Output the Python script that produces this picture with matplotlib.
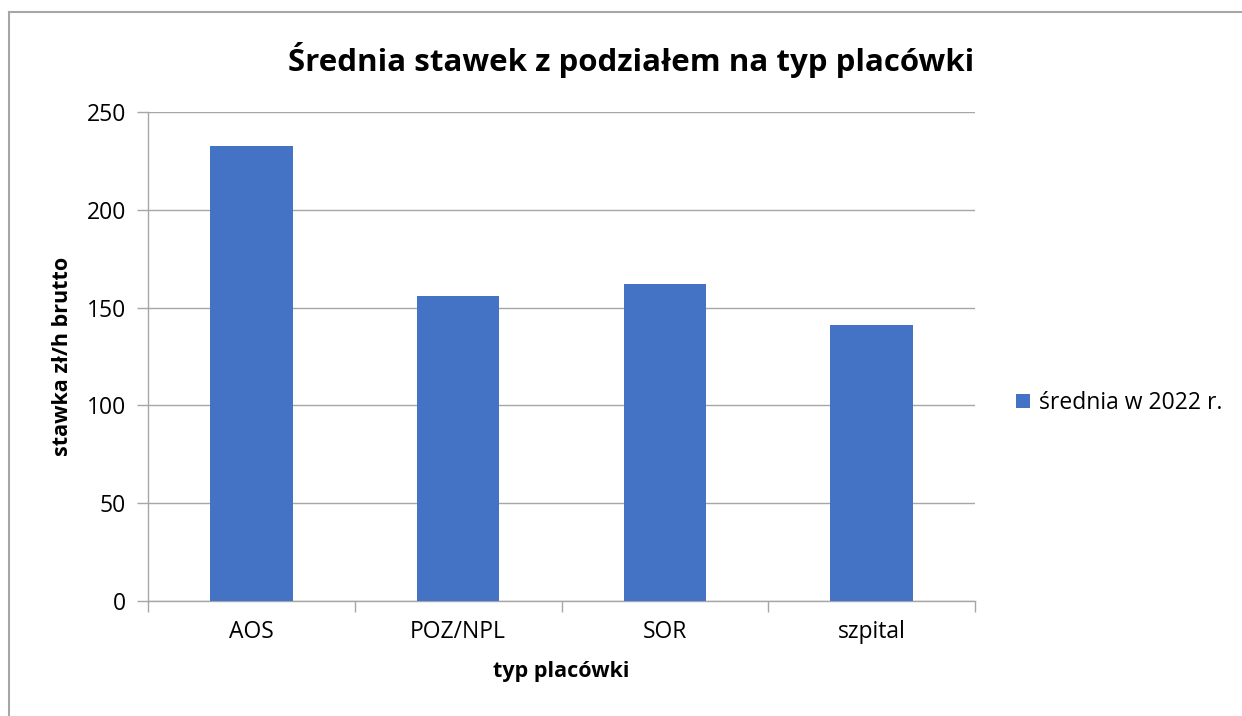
import matplotlib.pyplot as plt
from matplotlib.lines import Line2D

categories = ["AOS", "POZ/NPL", "SOR", "szpital"]
values = [232.5, 156, 162, 141]
series_name = "średnia w 2022 r."

plt.rcParams['font.family'] = ['Open Sans', 'DejaVu Sans']

fig = plt.figure(figsize=(12.42, 7.16), dpi=100)
ax = fig.add_axes([148/1242, 115/716, 827/1242, 489/716])

grid_col = "#A6A6A6"
x = range(len(categories))
ax.bar(x, values, width=0.4, color="#4472C4", label=series_name, zorder=3)

ax.set_xlim(-0.5, len(categories) - 0.5)
ax.set_ylim(0, 250)
ax.set_yticks(range(0, 251, 50))
ax.yaxis.grid(True, color=grid_col, linewidth=1)
ax.set_axisbelow(True)

ax.set_xticks(list(x))
ax.set_xticklabels(categories)
ax.set_xticks([i - 0.5 for i in range(len(categories) + 1)], minor=True)
ax.tick_params(axis="x", which="major", length=0, pad=14, labelsize=16.5)
ax.tick_params(axis="x", which="minor", length=8, color=grid_col, width=1)
ax.tick_params(axis="y", length=8, color=grid_col, width=1, pad=8, labelsize=16.5)

for s in ["top", "right"]:
    ax.spines[s].set_visible(False)
for s in ["left", "bottom"]:
    ax.spines[s].set_color(grid_col)
    ax.spines[s].set_linewidth(1)

ax.set_xlabel("typ placówki", fontsize=15.5, fontweight="bold", labelpad=12)
ax.set_ylabel("stawka zł/h brutto", fontsize=15.5, fontweight="bold", labelpad=10)

fig.text(631/1242, 1 - 60/716, "Średnia stawek z podziałem na typ placówki",
         ha="center", va="center", fontsize=22.5, fontweight="bold")

ax.legend(loc="center left", bbox_to_anchor=(1.025, 0.405), frameon=False,
          fontsize=16.5, handlelength=0.6, handleheight=0.6, handletextpad=0.4)

# chart area border (top and left visible)
fig.add_artist(Line2D([9/1242, 9/1242], [0, 1 - 12/716], transform=fig.transFigure,
                      color="#A6A6A6", linewidth=1.5))
fig.add_artist(Line2D([9/1242, 1], [1 - 12/716, 1 - 12/716], transform=fig.transFigure,
                      color="#A6A6A6", linewidth=1.5))

fig.savefig("out.png", dpi=100)
